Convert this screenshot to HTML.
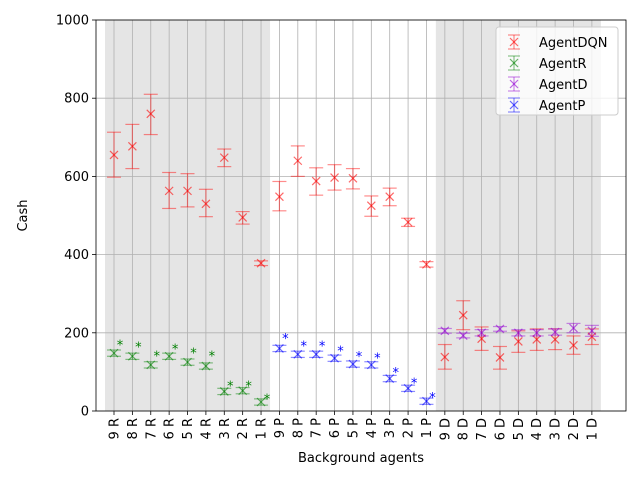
<!DOCTYPE html>
<html><head><meta charset="utf-8"><style>
body{margin:0;background:#fff;}
svg text{font-family:"DejaVu Sans","Liberation Sans",sans-serif;}
</style></head><body>
<svg id="chart" width="640" height="480" xmlns="http://www.w3.org/2000/svg"></svg>
<script>
const categories=["9 R","8 R","7 R","6 R","5 R","4 R","3 R","2 R","1 R","9 P","8 P","7 P","6 P","5 P","4 P","3 P","2 P","1 P","9 D","8 D","7 D","6 D","5 D","4 D","3 D","2 D","1 D"];
const dqnMean=[655,677,760,563,563,530,648,495,378,548,640,588,597,595,525,548,483,375,138,245,185,137,178,183,183,168,190];
const dqnLo=[598,620,707,518,522,497,625,478,372,512,600,552,565,568,498,525,472,368,107,208,155,107,150,155,157,145,170];
const dqnHi=[713,733,810,610,607,567,670,510,384,587,678,622,630,620,550,570,493,382,170,282,215,165,205,210,210,192,210];
const rMean=[148,140,118,140,125,115,50,52,23];
const rErr=[8,8,8,8,8,8,8,8,8];
const rStar=[178,172,150,168,157,150,73,73,40];
const pMean=[160,145,145,135,120,118,83,58,25];
const pErr=[8,8,8,8,8,8,8,8,8];
const pStar=[195,175,175,163,148,145,108,80,43];
const dMean=[205,193,200,210,200,200,202,212,205];
const dErr=[6,6,8,6,8,8,8,12,14];
const yTicks=[0,200,400,600,800,1000];

const svg=document.getElementById('chart');
const NS='http://www.w3.org/2000/svg';
const L=96,R=626,T=20,B=411;
const x0=114,dx=18.38;
const X=i=>x0+dx*i;
const Y=v=>B-(v-0)/(1000)*(B-T);
function mk(tag,attrs,parent){const e=document.createElementNS(NS,tag);for(const k in attrs)e.setAttribute(k,attrs[k]);(parent||svg).appendChild(e);return e;}

// shaded bands
let s1=mk('rect',{x:X(0)-9,y:T,width:X(8)-X(0)+18,height:B-T,fill:'#e5e5e5'});


let s2=mk('rect',{x:X(18)-9,y:T,width:X(26)-X(18)+18,height:B-T,fill:'#e5e5e5'});



// grid
categories.forEach((c,i)=>{
  const g=mk('line',{x1:X(i),x2:X(i),y1:T,y2:B,stroke:'#b0b0b0','stroke-width':0.8});
  
  
  const t=mk('line',{x1:X(i),x2:X(i),y1:B,y2:B+4,stroke:'#000','stroke-width':0.8});
  
  
  const tx=mk('text',{x:0,y:0,'font-size':13,'text-anchor':'end',transform:`translate(${X(i)+4.5},${B+7}) rotate(-90)`});
  tx.textContent=c;
  
  
});
yTicks.forEach(v=>{
  const g=mk('line',{x1:L,x2:R,y1:Y(v),y2:Y(v),stroke:'#b0b0b0','stroke-width':0.8});
  
  
  const t=mk('line',{x1:L-4,x2:L,y1:Y(v),y2:Y(v),stroke:'#000','stroke-width':0.8});
  
  
  const tx=mk('text',{x:L-7,y:Y(v)+4.5,'font-size':13,'text-anchor':'end'});
  tx.textContent=v;
  
  
});

function xmark(cx,cy,color,name){
  const g=mk('g',{stroke:color,'stroke-width':1.2,'stroke-opacity':0.6});
  
  
  mk('line',{x1:cx-4,y1:cy-4,x2:cx+4,y2:cy+4},g);
  mk('line',{x1:cx-4,y1:cy+4,x2:cx+4,y2:cy-4},g);
  return g;
}
function errbar(i,lo,hi,mean,color,name){
  const cx=X(i);
  const g=mk('g',{stroke:color,'stroke-width':1.2,'stroke-opacity':0.45});
  
  
  mk('line',{x1:cx,x2:cx,y1:Y(lo),y2:Y(hi)},g);
  mk('line',{x1:cx-7,x2:cx+7,y1:Y(lo),y2:Y(lo)},g);
  mk('line',{x1:cx-7,x2:cx+7,y1:Y(hi),y2:Y(hi)},g);
  xmark(cx,Y(mean),color,name+'-point');
}
function star(i,v,color){
  const t=mk('text',{x:X(i)+6,y:Y(v)+8,'font-size':13,'text-anchor':'middle',fill:color});
  t.textContent='*';
  
  
}
const RED='#ff0000',GRN='#008000',PUR='#9400d3',BLU='#0000ff';
dqnMean.forEach((m,i)=>errbar(i,dqnLo[i],dqnHi[i],m,RED,'dqn'));
rMean.forEach((m,i)=>{errbar(i,m-rErr[i],m+rErr[i],m,GRN,'agent-r');star(i,rStar[i],GRN);});
pMean.forEach((m,i)=>{errbar(i+9,m-pErr[i],m+pErr[i],m,BLU,'agent-p');star(i+9,pStar[i],BLU);});
dMean.forEach((m,i)=>errbar(i+18,m-dErr[i],m+dErr[i],m,PUR,'agent-d'));

// axes frame
const fr=mk('rect',{x:L,y:T,width:R-L,height:B-T,fill:'none',stroke:'#000','stroke-width':0.8});



// legend
const lg=mk('g',{});


mk('rect',{x:496,y:27,width:122,height:88,rx:3,fill:'#fff','fill-opacity':0.8,stroke:'#ccc'},lg);
const names=['AgentDQN','AgentR','AgentD','AgentP'],cols=[RED,GRN,PUR,BLU];
names.forEach((n,k)=>{
  const y=42+k*21;
  const g=mk('g',{stroke:cols[k],'stroke-width':1.2,'stroke-opacity':0.45},lg);
  
  
  mk('line',{x1:514,x2:514,y1:y-7,y2:y+7},g);
  mk('line',{x1:508,x2:520,y1:y-7,y2:y-7},g);
  mk('line',{x1:508,x2:520,y1:y+7,y2:y+7},g);
  xmark(514,y,cols[k],'legend-marker');
  const t=mk('text',{x:539,y:y+5,'font-size':13},lg);
  t.textContent=n;
  
  
});

const xl=mk('text',{x:(L+R)/2,y:462,'font-size':13,'text-anchor':'middle'});
xl.textContent='Background agents';


const yl=mk('text',{x:0,y:0,'font-size':13,'text-anchor':'middle',transform:`translate(27,${(T+B)/2}) rotate(-90)`});
yl.textContent='Cash';


</script>
</body></html>
